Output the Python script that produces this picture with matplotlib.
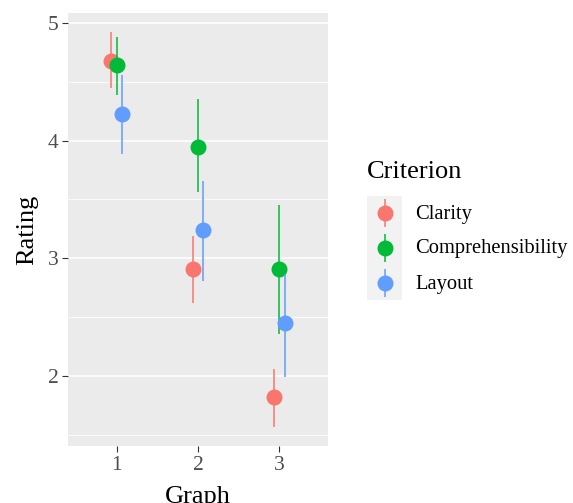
import matplotlib
matplotlib.use("Agg")
import matplotlib.pyplot as plt
import numpy as np

plt.rcParams['font.family'] = ['Liberation Serif', 'DejaVu Serif']

graphs = [1, 2, 3]
criteria = ["Clarity", "Comprehensibility", "Layout"]
colors = ["#F8766D", "#00BA38", "#619CFF"]

mean = {
    "Clarity":           [4.68, 2.91, 1.82],
    "Comprehensibility": [4.64, 3.95, 2.91],
    "Layout":            [4.23, 3.24, 2.45],
}
lower = {
    "Clarity":           [4.45, 2.62, 1.57],
    "Comprehensibility": [4.39, 3.56, 2.36],
    "Layout":            [3.89, 2.81, 1.99],
}
upper = {
    "Clarity":           [4.92, 3.19, 2.06],
    "Comprehensibility": [4.88, 4.35, 3.45],
    "Layout":            [4.56, 3.66, 2.87],
}

W, H = 573, 503
fig = plt.figure(figsize=(W / 100, H / 100), dpi=100)
ax = fig.add_axes([68 / W, (H - 446) / H, (328 - 68) / W, (446 - 13) / H])
ax.set_facecolor("#EBEBEB")

dodge = 0.067
for i, (c, col) in enumerate(zip(criteria, colors)):
    x = np.array(graphs) + (i - 1) * dodge
    ax.vlines(x, lower[c], upper[c], color=col, lw=1.1, zorder=3)
    ax.plot(x, mean[c], "o", color=col, ms=11.5, mec="none", zorder=3)

ax.set_xlim(0.4, 3.6)
ax.set_ylim(1.405, 5.085)
ax.set_xticks(graphs)
ax.set_xticklabels([str(g) for g in graphs])
ax.set_yticks([2, 3, 4, 5])
ax.set_yticks([1.5, 2.5, 3.5, 4.5], minor=True)
ax.grid(True, which="major", axis="y", color="white", lw=1.1)
ax.grid(True, which="minor", axis="y", color="white", lw=0.55)
ax.set_axisbelow(True)
for s in ax.spines.values():
    s.set_visible(False)
ax.tick_params(which="major", length=4, width=0.8, color="#333333",
               labelsize=15.5, labelcolor="#4D4D4D", pad=3)
ax.tick_params(which="minor", length=0)
ax.set_xlabel("Graph", fontsize=19, labelpad=8)
ax.set_ylabel("Rating", fontsize=19, labelpad=7)

# legend
lax = fig.add_axes([367 / W, (H - 300) / H, 35 / W, 104 / H])
lax.set_facecolor("#F2F2F2")
lax.set_xlim(0, 1)
lax.set_ylim(0, 3)
lax.set_xticks([])
lax.set_yticks([])
for s in lax.spines.values():
    s.set_visible(False)
for i, (c, col) in enumerate(zip(criteria, colors)):
    yk = 2.5 - i
    lax.vlines(0.5, yk - 0.4, yk + 0.4, color=col, lw=1.1)
    lax.plot(0.5, yk, "o", color=col, ms=11.5, mec="none")
    fig.text(415 / W, (H - (214 + 35 * i)) / H, c, fontsize=14.8,
             va="center", ha="left")
fig.text(367 / W, (H - 172) / H, "Criterion", fontsize=19,
         va="center", ha="left")

fig.savefig("out.png", dpi=100)
